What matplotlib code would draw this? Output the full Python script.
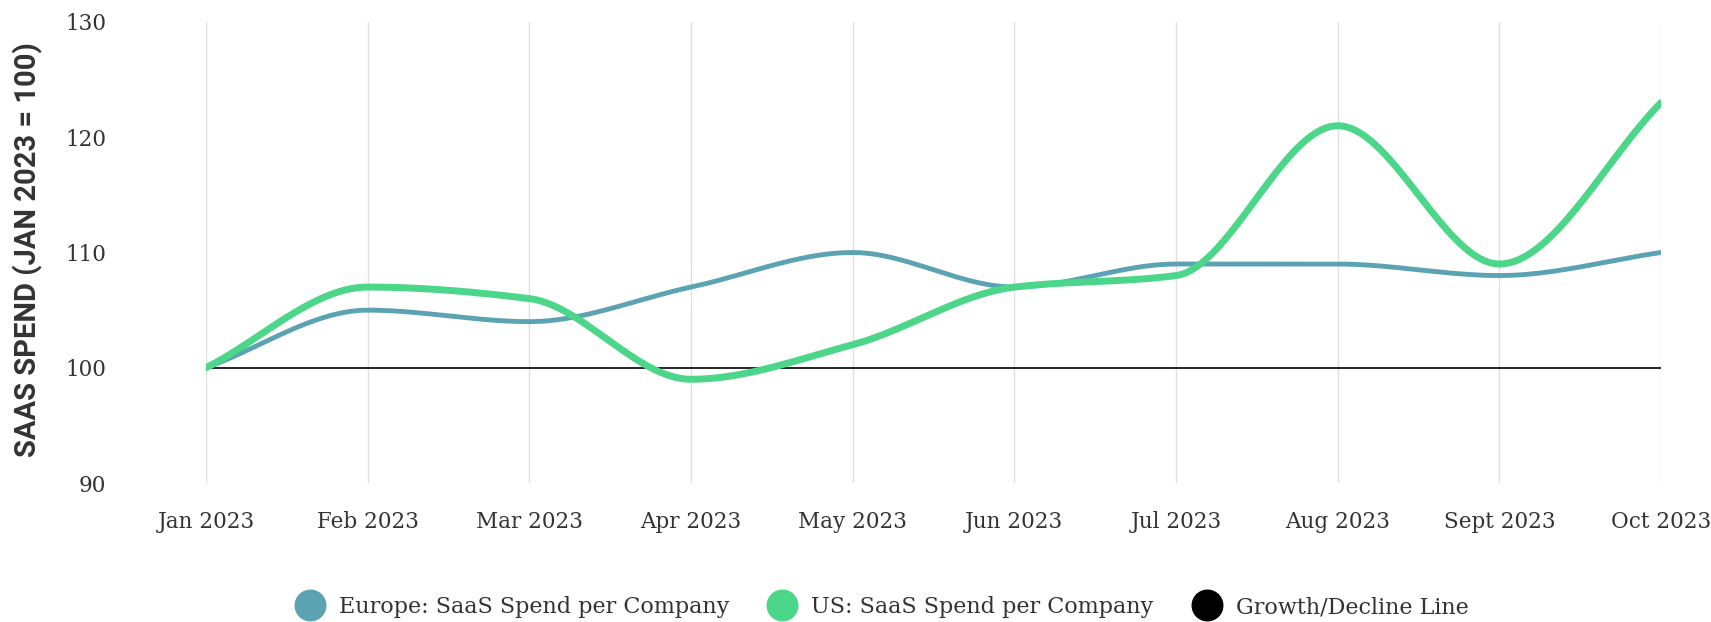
import numpy as np
from matplotlib import pyplot as plt
from matplotlib.lines import Line2D

# chart values
months = ['Jan 2023', 'Feb 2023', 'Mar 2023', 'Apr 2023', 'May 2023',
          'Jun 2023', 'Jul 2023', 'Aug 2023', 'Sept 2023', 'Oct 2023']
europe = [100, 105, 104, 107, 110, 107, 109, 109, 108, 110]
us = [100, 107, 106, 99, 102, 107, 108, 121, 109, 123]
baseline = [100] * len(months)

EUROPE_COLOR = '#5ba3b3'
US_COLOR = '#4cd689'
SLAB = ['DejaVu Serif']


# monotone cubic curve through the points (for the smooth look)
def smooth(y, n=40):
    y = np.asarray(y, dtype=float)
    x = np.arange(len(y), dtype=float)
    d = np.diff(y)
    m = np.zeros_like(y)
    m[0], m[-1] = d[0], d[-1]
    for i in range(1, len(y) - 1):
        if d[i - 1] * d[i] > 0:
            m[i] = 2 * d[i - 1] * d[i] / (d[i - 1] + d[i])
    xs, ys = [], []
    for i in range(len(y) - 1):
        t = np.linspace(0, 1, n, endpoint=False)
        h00 = 2 * t**3 - 3 * t**2 + 1
        h10 = t**3 - 2 * t**2 + t
        h01 = -2 * t**3 + 3 * t**2
        h11 = t**3 - t**2
        xs.append(x[i] + t)
        ys.append(h00 * y[i] + h10 * m[i] + h01 * y[i + 1] + h11 * m[i + 1])
    xs.append([x[-1]])
    ys.append([y[-1]])
    return np.concatenate(xs), np.concatenate(ys)


fig = plt.figure(figsize=(17.11, 6.22), dpi=100)
ax = fig.add_axes([206 / 1711, 1 - 483 / 622, (1661 - 206) / 1711, (483 - 22) / 622])

x = np.arange(len(months))
ax.plot(x, baseline, color='black', lw=1.2, zorder=2)
ex, ey = smooth(europe)
ax.plot(ex, ey, color=EUROPE_COLOR, lw=3.5, zorder=3, solid_capstyle='round')
ux, uy = smooth(us)
ax.plot(ux, uy, color=US_COLOR, lw=5, zorder=4, solid_capstyle='round')

ax.set_xlim(0, len(months) - 1)
ax.set_ylim(90, 130)
ax.set_yticks([90, 100, 110, 120, 130])
ax.set_xticks(x)
ax.set_xticklabels(months, fontfamily=SLAB, fontsize=15.5, color='#333333')
for lbl in ax.get_yticklabels():
    lbl.set_fontfamily(SLAB)
    lbl.set_fontsize(15.5)
    lbl.set_color('#333333')
ax.tick_params(axis='x', length=0, pad=20)
ax.tick_params(axis='y', length=0, pad=72)
ax.grid(axis='x', color='#e0e0e0', lw=1)
ax.set_axisbelow(True)
for s in ax.spines.values():
    s.set_visible(False)

fig.text(28 / 1711, 1 - 250 / 622, 'SAAS SPEND (JAN 2023 = 100)', rotation=90,
         ha='center', va='center', fontfamily='Roboto', fontweight='bold',
         fontsize=21, color='#333333')

handles = [
    Line2D([], [], marker='o', ls='', markersize=22, color=EUROPE_COLOR),
    Line2D([], [], marker='o', ls='', markersize=22, color=US_COLOR),
    Line2D([], [], marker='o', ls='', markersize=22, color='black'),
]
labels = ['Europe: SaaS Spend per Company', 'US: SaaS Spend per Company',
          'Growth/Decline Line']
fig.legend(handles, labels, loc='center', bbox_to_anchor=(878 / 1711, 1 - 607 / 622),
           ncol=3, frameon=False, prop={'family': SLAB, 'size': 16},
           handletextpad=0.3, columnspacing=1.4, labelcolor='#333333')

plt.savefig('out.png', dpi=100)
